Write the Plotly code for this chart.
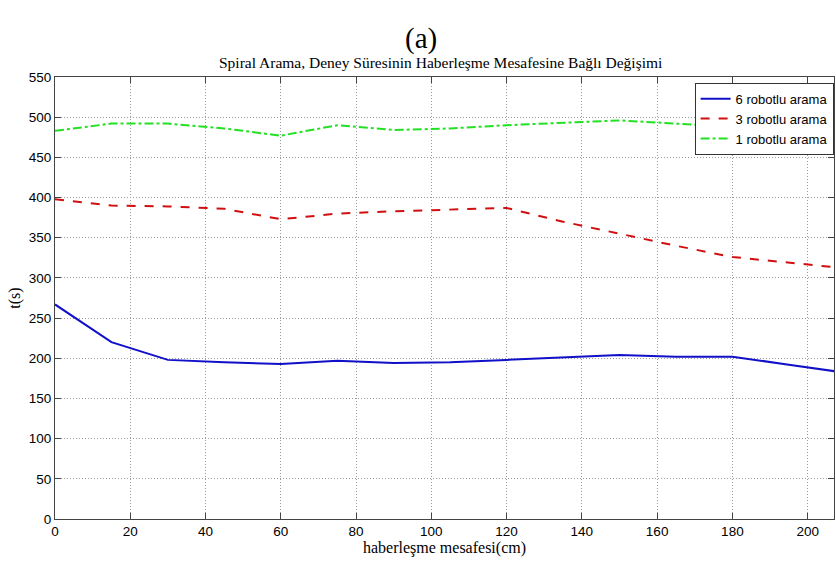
import plotly.graph_objects as go

distance = [0, 15, 30, 45, 60, 75, 90, 105, 120, 135, 150, 165, 180, 195, 210]
robot6 = [267, 220, 198, 195, 193, 197, 194, 195, 198, 201, 204, 202, 202, 192, 182]
robot3 = [398, 390, 389, 386, 373, 380, 383, 385, 387, 370, 355, 340, 326, 319, 312]
robot1 = [483, 492, 492, 486, 477, 490, 484, 486, 490, 493, 496, 492, 488, 486, 484]

series_names = ["6 robotlu arama", "3 robotlu arama", "1 robotlu arama"]
x_ticks = [0, 20, 40, 60, 80, 100, 120, 140, 160, 180, 200]
y_ticks = [0, 50, 100, 150, 200, 250, 300, 350, 400, 450, 500, 550]

fig = go.Figure()
fig.add_trace(go.Scatter(x=distance, y=robot6, mode="lines", name=series_names[0],
                         line=dict(color="#1010c8", width=2, dash="solid")))
fig.add_trace(go.Scatter(x=distance, y=robot3, mode="lines", name=series_names[1],
                         line=dict(color="#d01010", width=2, dash="dash")))
fig.add_trace(go.Scatter(x=distance, y=robot1, mode="lines", name=series_names[2],
                         line=dict(color="#22e022", width=2, dash="dashdot")))

axis_common = dict(
    showline=True, linecolor="#444", linewidth=1, mirror="allticks",
    ticks="inside", ticklen=6, tickcolor="#444",
    showgrid=True, gridcolor="#9a9a9a", griddash="1px,2px", gridwidth=1,
    zeroline=False,
    tickfont=dict(family="Liberation Sans, Arial", size=13.5, color="black"),
)

fig.update_layout(
    width=836, height=563,
    margin=dict(l=55, r=2, t=77, b=44),
    paper_bgcolor="white", plot_bgcolor="white",
    xaxis=dict(range=[0, 207], tickvals=x_ticks,
               title=dict(text="haberleşme mesafesi(cm)", standoff=1,
                          font=dict(family="Liberation Serif, Times New Roman", size=16, color="black")),
               **axis_common),
    yaxis=dict(range=[0, 550], tickvals=y_ticks,
               title=dict(text="t(s)", standoff=4,
                          font=dict(family="Liberation Serif, Times New Roman", size=16, color="black")),
               **axis_common),
    legend=dict(x=0.9995, xanchor="right", y=0.987, yanchor="top",
                bordercolor="#333", borderwidth=1, bgcolor="white",
                font=dict(family="Liberation Sans, Arial", size=13, color="black"),
                tracegroupgap=0, itemwidth=30),
    showlegend=True,
    annotations=[
        dict(text="(a)", xref="paper", yref="paper", x=0.47, y=1.0, yshift=39, yanchor="middle",
             showarrow=False, font=dict(family="Liberation Serif, Times New Roman", size=29, color="black")),
        dict(text="Spiral Arama, Deney Süresinin Haberleşme Mesafesine Bağlı Değişimi",
             xref="paper", yref="paper", x=0.495, y=1.0, yshift=15, yanchor="middle", showarrow=False,
             font=dict(family="Liberation Serif, Times New Roman", size=15.5, color="black")),
    ],
)

fig.write_html("out.html")
